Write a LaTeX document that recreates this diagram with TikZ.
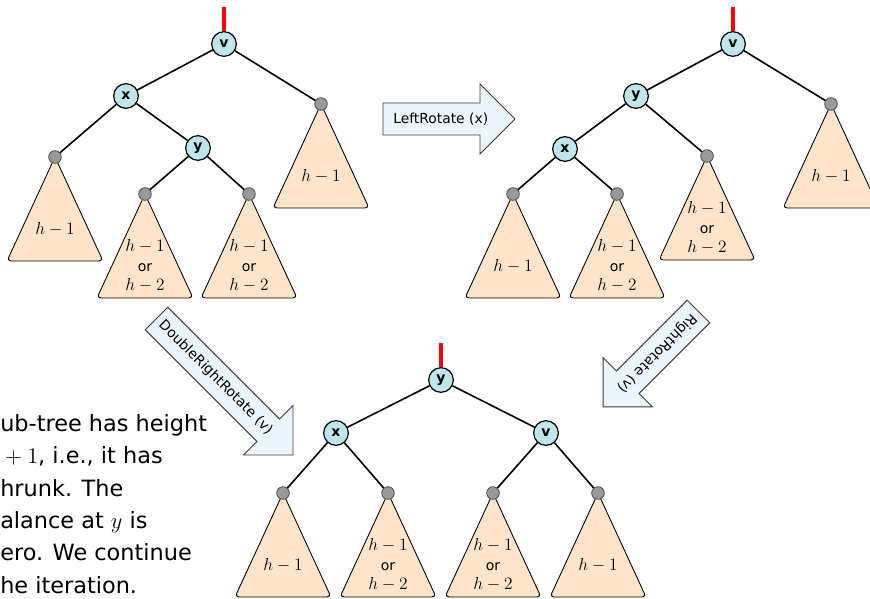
\RequirePackage{fix-cm}
\documentclass[tikz,border=0pt]{standalone}
\usepackage[no-math]{fontspec}
\setmainfont{DejaVu Sans}
\setsansfont{DejaVu Sans}
\usetikzlibrary{calc}
\definecolor{nodecyan}{RGB}{190,230,235}
\definecolor{treepeach}{RGB}{253,228,203}
\definecolor{arrowblue}{RGB}{235,245,253}
\definecolor{dotgray}{RGB}{153,153,153}
\definecolor{arrowline}{RGB}{60,60,60}
\tikzset{
 tri/.style={draw=black, line width=0.65pt, fill=treepeach, rounded corners=3pt},
 leafdot/.style={circle, draw=black!70, fill=dotgray, line width=0.6pt, minimum size=9.5pt, inner sep=0pt},
 keynode/.style={circle, draw=black, fill=nodecyan, line width=0.9pt, minimum size=18.5pt, inner sep=0pt, font=\fontsize{10.5}{11}\selectfont\bfseries},
 edge/.style={line width=1.2pt, black},
 redline/.style={line width=3pt, red},
 trilabel/.style={align=center, font=\fontsize{13}{14.6}\selectfont, inner sep=0pt},
 rotarrow/.style={draw=arrowline, fill=arrowblue, line width=0.7pt},
 arrowtext/.style={font=\fontsize{10.4}{12}\selectfont, inner sep=0pt},
 maintext/.style={align=left, font=\fontsize{16.8}{24.3}\selectfont, inner sep=0pt},
}
\newcommand\subtree[4]{%
 \draw[tri] (#2,#3) -- (#2-48,#3+104) -- (#2+48,#3+104) -- cycle;
 \node[leafdot] (#1) at (#2,#3) {};
 \node[trilabel] (#1l) at (#2,#3+72) {#4};
}
\newcommand\bigarrow[7]{%
 \begin{scope}[shift={(#2,#3)}, rotate=#4]
 \draw[rotarrow] (0,-16) -- (#5-35,-16) -- (#5-35,-35) -- (#5,0) -- (#5-35,35) -- (#5-35,16) -- (0,16) -- cycle;
 \node[arrowtext, rotate=#4, anchor=west] (#1) at (#6,0) {#7};
 \end{scope}
}
\newcommand\oneh{$h-1$}
\newcommand\twoh{$h-1$\\{\fontsize{10.5}{14.6}\selectfont or}\\$h-2$}
\begin{document}
\begin{tikzpicture}[x=0.75pt, y=-0.75pt]
\useasboundingbox (0,0) rectangle (870,599);

% ---------- tree A (top left) ----------
\subtree{A1}{55}{157}{\oneh}
\subtree{A2}{145}{194}{\twoh}
\subtree{A3}{249}{194}{\twoh}
\subtree{A4}{321}{104}{\oneh}
\node[keynode] (vA) at (224,44) {v};
\node[keynode] (xA) at (126,96) {x};
\node[keynode] (yA) at (198,148) {y};
\coordinate (rA) at (224,7);
\draw[redline] (rA) -- (vA.north);
\draw[edge] (vA) -- (xA);
\draw[edge] (vA) -- (A4);
\draw[edge] (xA) -- (A1);
\draw[edge] (xA) -- (yA);
\draw[edge] (yA) -- (A2);
\draw[edge] (yA) -- (A3);

% ---------- tree B (top right) ----------
\subtree{B1}{513}{194}{\oneh}
\subtree{B2}{617}{194}{\twoh}
\subtree{B3}{707}{156}{\twoh}
\subtree{B4}{831}{104}{\oneh}
\node[keynode] (vB) at (733,44) {v};
\node[keynode] (yB) at (636,96) {y};
\node[keynode] (xB) at (565,149) {x};
\coordinate (rB) at (733,7);
\draw[redline] (rB) -- (vB.north);
\draw[edge] (vB) -- (yB);
\draw[edge] (vB) -- (B4);
\draw[edge] (yB) -- (xB);
\draw[edge] (yB) -- (B3);
\draw[edge] (xB) -- (B1);
\draw[edge] (xB) -- (B2);

% ---------- tree C (bottom) ----------
\subtree{C1}{283}{493}{\oneh}
\subtree{C2}{388}{493}{\twoh}
\subtree{C3}{493}{493}{\twoh}
\subtree{C4}{598}{493}{\oneh}
\node[keynode] (yC) at (441,380) {y};
\node[keynode] (xC) at (336,433) {x};
\node[keynode] (vC) at (546,433) {v};
\coordinate (rC) at (441,343);
\draw[redline] (rC) -- (yC.north);
\draw[edge] (yC) -- (xC);
\draw[edge] (yC) -- (vC);
\draw[edge] (xC) -- (C1);
\draw[edge] (xC) -- (C2);
\draw[edge] (vC) -- (C3);
\draw[edge] (vC) -- (C4);

% ---------- arrows ----------
\bigarrow{lrot}{383}{119}{0}{132}{10}{LeftRotate (x)}
\bigarrow{drrot}{156.5}{318.5}{-45}{193}{6}{DoubleRightRotate (v)}
\bigarrow{rrot}{698.5}{311.5}{-135}{135}{6}{RightRotate (v)}

% ---------- text ----------
\node[maintext, anchor=north west] (para) at (0,414) {ub-tree has height\\${}+1$, i.e., it has\\hrunk. The\\alance at $y$ is\\ero. We continue\\he iteration.};
\end{tikzpicture}
\end{document}
